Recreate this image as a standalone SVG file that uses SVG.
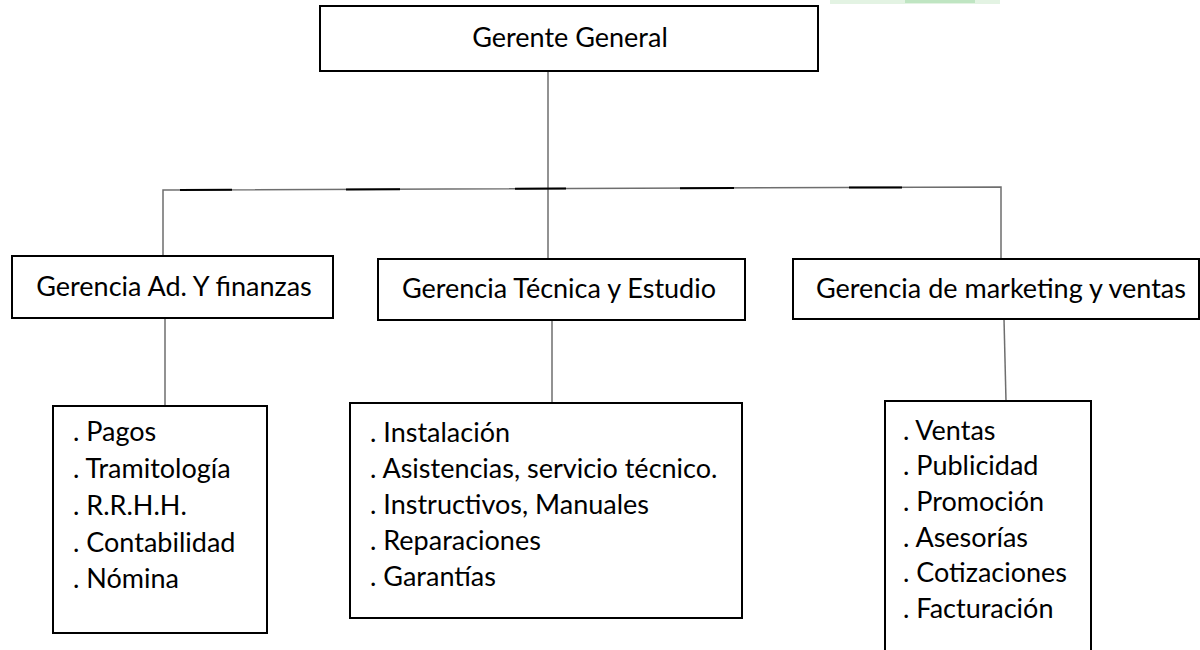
<svg xmlns="http://www.w3.org/2000/svg" width="1200" height="650" viewBox="0 0 1200 650">
<style>
.box{fill:#fff;stroke:#000;stroke-width:2}
.t{font-family:Lato,"Open Sans",sans-serif;fill:#000;font-size:27px}
.c{stroke:#6e6e6e;stroke-width:1.5;fill:none}
.d{stroke:#000;stroke-width:2;fill:none}
</style>
<rect width="1200" height="650" fill="#fff"/>
<rect x="830" y="0" width="170" height="4" fill="#e3f3e3"/>
<rect x="905" y="0" width="70" height="3" fill="#bfe5c2"/>
<g id="connectors">
<line class="c" x1="548" y1="72" x2="548" y2="259"/>
<polyline class="c" points="163,256 163,190 1001,187 1001,259"/>
<line class="d" x1="180" y1="189.9" x2="232" y2="189.8"/>
<line class="d" x1="346" y1="189.4" x2="400" y2="189.2"/>
<line class="d" x1="515" y1="188.8" x2="566" y2="188.6"/>
<line class="d" x1="680" y1="188.2" x2="734" y2="188"/>
<line class="d" x1="849" y1="187.6" x2="902" y2="187.4"/>
<line class="c" x1="165" y1="318" x2="165" y2="406"/>
<line class="c" x1="552" y1="320" x2="552" y2="403"/>
<line class="c" x1="1004" y1="319" x2="1006" y2="401"/>
</g>
<g id="gerente">
<rect class="box" x="320" y="6" width="498" height="65" stroke-width="2.5"/>
<text class="t" x="570" y="47" text-anchor="middle">Gerente General</text>
</g>
<g id="adm">
<rect class="box" x="12" y="256" width="321" height="62"/>
<text class="t" x="174" y="296" text-anchor="middle">Gerencia Ad. Y finanzas</text>
</g>
<g id="tec">
<rect class="box" x="378" y="259" width="367" height="61"/>
<text class="t" x="559" y="298" text-anchor="middle">Gerencia Técnica y Estudio</text>
</g>
<g id="mkt">
<rect class="box" x="793" y="259" width="406" height="60"/>
<text class="t" x="1001" y="298" text-anchor="middle">Gerencia de marketing y ventas</text>
</g>
<g id="adm-list">
<rect class="box" x="53" y="406" width="214" height="227"/>
<text class="t" x="73" y="441">. Pagos</text>
<text class="t" x="73" y="478">. Tramitología</text>
<text class="t" x="73" y="515">. R.R.H.H.</text>
<text class="t" x="73" y="552">. Contabilidad</text>
<text class="t" x="73" y="588">. Nómina</text>
</g>
<g id="tec-list">
<rect class="box" x="350" y="403" width="392" height="215"/>
<text class="t" x="370" y="442">. Instalación</text>
<text class="t" x="370" y="478">. Asistencias, servicio técnico.</text>
<text class="t" x="370" y="514">. Instructivos, Manuales</text>
<text class="t" x="370" y="550">. Reparaciones</text>
<text class="t" x="370" y="586">. Garantías</text>
</g>
<g id="mkt-list">
<rect class="box" x="885" y="401" width="206" height="262"/>
<text class="t" x="903" y="440">. Ventas</text>
<text class="t" x="903" y="475">. Publicidad</text>
<text class="t" x="903" y="511">. Promoción</text>
<text class="t" x="903" y="547">. Asesorías</text>
<text class="t" x="903" y="582">. Cotizaciones</text>
<text class="t" x="903" y="618">. Facturación</text>
</g>
</svg>
